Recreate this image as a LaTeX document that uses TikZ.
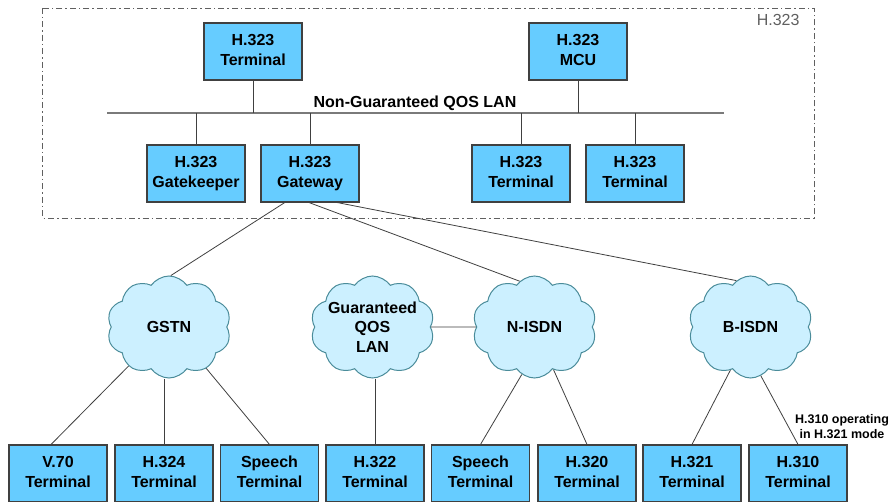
\documentclass[tikz,border=0pt]{standalone}
\usepackage{fontspec}
\setmainfont{Liberation Sans}
\usetikzlibrary{shapes.symbols,calc}

\definecolor{boxfill}{HTML}{66CCFF}
\definecolor{boxline}{HTML}{404040}
\definecolor{cloudfill}{HTML}{CCF0FF}
\definecolor{cloudline}{HTML}{4A8C9A}
\definecolor{wire}{HTML}{404040}
\definecolor{lanline}{HTML}{7A7A7A}
\definecolor{framegray}{HTML}{606060}

% two lines of equal height, so every box centres its text alike
\newcommand{\twolines}[2]{#1\strut\\#2\strut}

\tikzset{
  unit/.style={draw=boxline, line width=1.1pt, fill=boxfill, align=center,
    minimum width=98pt, minimum height=57pt, inner sep=0pt,
    font=\fontsize{16pt}{20pt}\selectfont\bfseries},
  net/.style={cloud, cloud puffs=10, cloud puff arc=110, aspect=1.2,
    draw=cloudline, line width=1pt, fill=cloudfill, align=center,
    minimum width=124pt, minimum height=102pt, inner sep=0pt,
    font=\fontsize{16pt}{19.5pt}\selectfont\bfseries},
  link/.style={draw=wire, line width=0.8pt},
  lan/.style={draw=lanline, line width=1.6pt},
  zone/.style={draw=framegray, line width=0.9pt,
    dash pattern=on 6pt off 3pt on 1.5pt off 3pt},
}

\begin{document}
\begin{tikzpicture}[x=1pt, y=-1pt]
  \useasboundingbox (0,0) rectangle (893,502);
  \fill[white] (0,0) rectangle (893,502);

  % H.323 zone
  \draw[zone] (42,8) rectangle (814,218);
  \node[text=framegray, font=\fontsize{16pt}{18pt}\selectfont, anchor=east] (zonelabel) at (803,20) {H.323};

  % LAN bus
  \coordinate (lanL) at (107,113);
  \coordinate (lanR) at (724,113);
  \draw[lan] (lanL) -- (lanR);
  \node[font=\fontsize{16pt}{18pt}\selectfont\bfseries, anchor=south, inner sep=2pt] (lanlabel) at (415,113) {Non-Guaranteed QOS LAN};

  % H.323 endpoints
  \node[unit] (term1) at (253,51.5) {\twolines{H.323}{Terminal}};
  \node[unit] (mcu)   at (578,51.5) {\twolines{H.323}{MCU}};
  \node[unit] (gk)    at (196,173.5) {\twolines{H.323}{Gatekeeper}};
  \node[unit] (gw)    at (310,173.5) {\twolines{H.323}{Gateway}};
  \node[unit] (term2) at (521,173.5) {\twolines{H.323}{Terminal}};
  \node[unit] (term3) at (635,173.5) {\twolines{H.323}{Terminal}};

  \foreach \n in {term1,mcu} \draw[link] (\n.south) -- (\n.south |- lanL);
  \foreach \n in {gk,gw,term2,term3} \draw[link] (\n.north) -- (\n.north |- lanL);

  % networks (the three-line label may touch the outline)
  \node[net] (gstn)  at (169,327) {GSTN};
  \node[net, inner sep=-14pt] (gqos) at (372.5,327) {Guaranteed\\QOS\\LAN};
  \node[net] (nisdn) at (534.5,327) {N-ISDN};
  \node[net] (bisdn) at (750.5,327) {B-ISDN};

  % terminals on the networks
  \node[unit] (v70)   at (58,473.5)  {\twolines{V.70}{Terminal}};
  \node[unit] (h324)  at (164,473.5) {\twolines{H.324}{Terminal}};
  \node[unit] (sp1)   at (269.5,473.5) {\twolines{Speech}{Terminal}};
  \node[unit] (h322)  at (375,473.5) {\twolines{H.322}{Terminal}};
  \node[unit] (sp2)   at (480.5,473.5) {\twolines{Speech}{Terminal}};
  \node[unit] (h320)  at (587,473.5) {\twolines{H.320}{Terminal}};
  \node[unit] (h321)  at (692,473.5) {\twolines{H.321}{Terminal}};
  \node[unit] (h310)  at (798,473.5) {\twolines{H.310}{Terminal}};

  % gateway to networks
  \draw[link] ($(gw.south west)!0.245!(gw.south east)$) -- (gstn.88);
  \draw[link] ($(gw.south west)!0.49!(gw.south east)$) -- (nisdn.108);
  \draw[link] ($(gw.south west)!0.775!(gw.south east)$) -- (bisdn.107);

  % networks to terminals
  \draw[link] (gstn.-136) -- ($(v70.north west)!0.43!(v70.north east)$);
  \draw[link] (h324.north) -- (h324.north |- gstn.south);
  \draw[link] (gstn.-48) -- (sp1.north);
  \draw[link] (h322.north) -- (h322.north |- gqos.south);
  \draw[link] (gqos) -- (nisdn);
  \draw[link] (nisdn.-105) -- (sp2.north);
  \draw[link] (nisdn.-66) -- (h320.north);
  \draw[link] (bisdn.-115) -- (h321.north);
  \draw[link] (bisdn.-78) -- (h310.north);

  \node[font=\fontsize{12.5pt}{15pt}\selectfont\bfseries, align=center] (h310note) at (842,427) {H.310 operating\\in H.321 mode};
\end{tikzpicture}
\end{document}
